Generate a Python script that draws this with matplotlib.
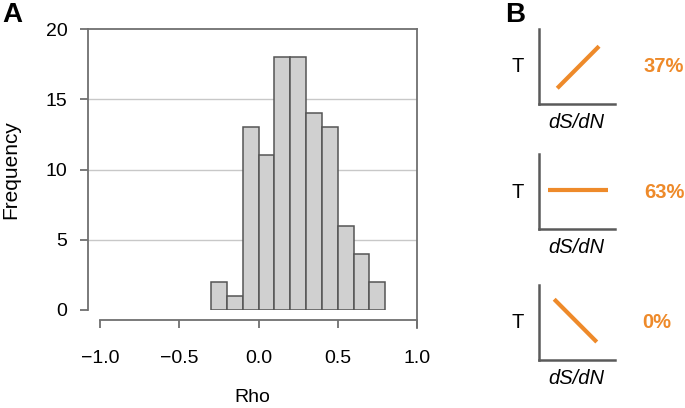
import matplotlib.pyplot as plt

plt.rcParams["font.family"] = ["Liberation Sans", "DejaVu Sans"]

# Panel A: histogram of Rho (bin edges and counts)
bin_edges = [-0.3, -0.2, -0.1, 0.0, 0.1, 0.2, 0.3, 0.4, 0.5, 0.6, 0.7, 0.8]
counts = [2, 1, 13, 11, 18, 18, 14, 13, 6, 4, 2]
x_ticks = [-1.0, -0.5, 0.0, 0.5, 1.0]
y_ticks = [0, 5, 10, 15, 20]

# Panel B: schematic trends of T against dS/dN
trend_x = [[0.24, 0.79], [0.12, 0.91], [0.20, 0.76]]
trend_y = [[0.21, 0.77], [0.52, 0.52], [0.81, 0.24]]
shares = ["37%", "63%", "0%"]

ORANGE = "#EE8A2A"
AXGRAY = "#5a5a5a"

W, H = 685, 408
fig = plt.figure(figsize=(W / 100, H / 100), dpi=100)


def px_axes(left, top, right, bottom):
    return fig.add_axes([left / W, 1 - bottom / H, (right - left) / W, (bottom - top) / H])


# ---- Panel A ----
ax = px_axes(88, 29, 417, 310)
widths = [b - a for a, b in zip(bin_edges[:-1], bin_edges[1:])]
ax.bar(bin_edges[:-1], counts, width=widths, align="edge",
       color="#d0d0d0", edgecolor="#555555", linewidth=1.1, zorder=3)
ax.set_xlim(-1.076, 1.0)
ax.set_ylim(0, 20)

for v in y_ticks[1:-1]:
    ax.axhline(v, color="#c8c8c8", linewidth=1.0, zorder=1)
# top and right frame lines
ax.plot([-1.076, 1.0], [20, 20], color="#707070", linewidth=1.3, clip_on=False, zorder=2)
ax.plot([1.0, 1.0], [-1.28, 20], color="#707070", linewidth=1.3, clip_on=False, zorder=2)

for s in ["top", "right"]:
    ax.spines[s].set_visible(False)
ax.spines["left"].set_bounds(0, 20)
ax.spines["left"].set_color("#707070")
ax.spines["left"].set_linewidth(1.3)
ax.spines["bottom"].set_position(("outward", 7.2))
ax.spines["bottom"].set_bounds(-1.0, 1.0)
ax.spines["bottom"].set_color("#707070")
ax.spines["bottom"].set_linewidth(1.3)

ax.set_xticks(x_ticks)
ax.set_xticklabels([f"{v:.1f}".replace("-", "\u2212") for v in x_ticks])
ax.set_yticks(y_ticks)
ax.tick_params(axis="both", length=5.8, width=1.3, color="#707070", labelsize=14)
ax.tick_params(axis="x", pad=16)
ax.tick_params(axis="y", pad=9)
ax.set_xlabel("Rho", fontsize=14, labelpad=16)
fig.text(11 / W, 1 - 170 / H, "Frequency", fontsize=15, rotation=90,
         ha="center", va="center")
fig.text(12 / W, 1 - 15 / H, "A", fontsize=20, fontweight="bold", ha="center", va="center")

# ---- Panel B ----
fig.text(515 / W, 1 - 15 / H, "B", fontsize=20, fontweight="bold", ha="center", va="center")
tops = [29, 154, 285]
label_x = [664, 664, 657]
for i, top in enumerate(tops):
    bottom = top + 75
    bx = px_axes(539, top, 615, bottom)
    bx.plot(trend_x[i], trend_y[i], color=ORANGE, linewidth=3.0, solid_capstyle="butt")
    bx.set_xlim(0, 1)
    bx.set_ylim(0, 1)
    bx.set_xticks([])
    bx.set_yticks([])
    for s in ["top", "right"]:
        bx.spines[s].set_visible(False)
    for s in ["left", "bottom"]:
        bx.spines[s].set_color(AXGRAY)
        bx.spines[s].set_linewidth(1.8)
    mid = top + 38
    fig.text(518 / W, 1 - mid / H, "T", fontsize=14.5, ha="center", va="center")
    fig.text(576 / W, 1 - (bottom + 19) / H, "dS/dN", fontsize=14.5, style="italic",
             ha="center", va="center")
    fig.text(label_x[i] / W, 1 - mid / H, shares[i], fontsize=14.5, fontweight="bold",
             color=ORANGE, ha="center", va="center")

fig.savefig("out.png", dpi=100)
